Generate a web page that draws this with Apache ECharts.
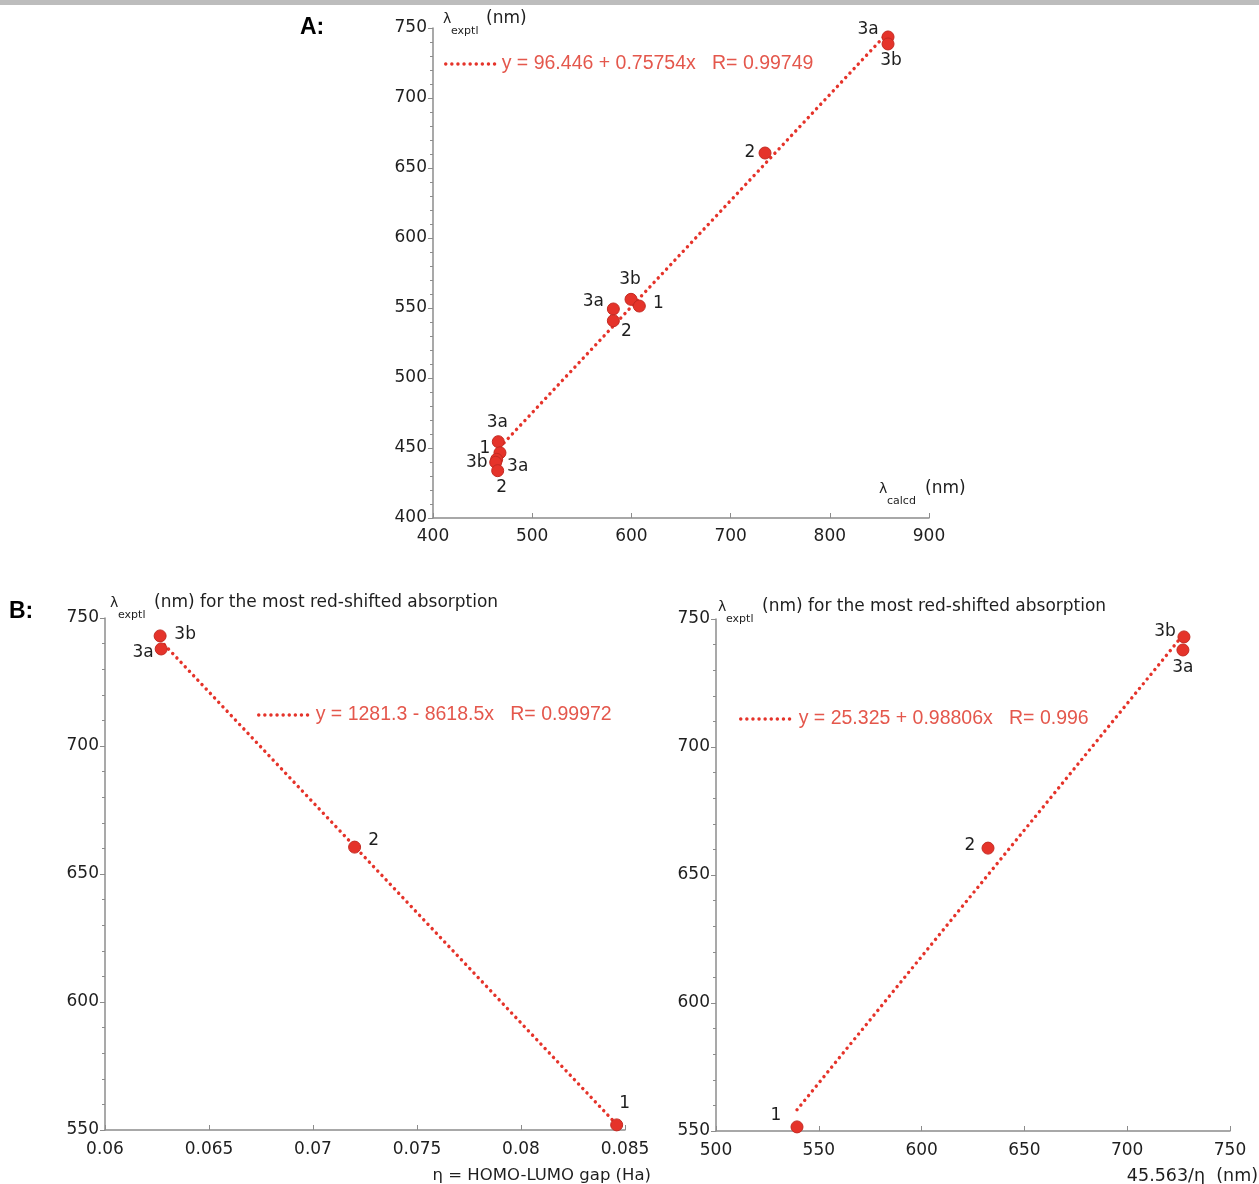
<!DOCTYPE html>
<html><head><meta charset="utf-8">
<script src="https://cdn.jsdelivr.net/npm/echarts@6/dist/echarts.min.js"></script>
<style>html,body{margin:0;padding:0;background:#fff}#c{width:1259px;height:1184px}</style>
</head><body><div id="c"></div>
<script>
// ---- Data ----
// Panel A
const aNames = ['3a','3b','2','3b','1','3a','2','3a','1','3b','3a','2'];
const aCalcd = [858.7, 858.7, 734.7, 599.6, 608.0, 581.8, 581.8, 465.8, 467.5, 464.2, 463.2, 465.2];
const aExptl = [743.6, 738.6, 660.7, 556.2, 551.4, 549.3, 540.9, 454.5, 446.6, 441.9, 439.8, 433.8];
const aFit = {intercept: 96.446, slope: 0.75754, from: 463.2, to: 858.7};
const aFitText = 'y = 96.446 + 0.75754x   R= 0.99749';
const aXTicks = {min: 400, max: 900, step: 100};
const aYTicks = {min: 400, max: 750, step: 50};

// Panel B (left): HOMO-LUMO gap
const blNames = ['3b','3a','2','1'];
const blGap = [0.06265, 0.06270, 0.0720, 0.0846];
const blExptl = [743.0, 737.9, 660.5, 552.0];
const blFit = {intercept: 1281.3, slope: -8618.5, from: 0.06265, to: 0.0846};
const blFitText = 'y = 1281.3 - 8618.5x   R= 0.99972';
const blXTicks = {min: 0.06, max: 0.085, step: 0.005};
const bYTicks = {min: 550, max: 750, step: 50};

// Panel B (right): 45.563/eta
const brNames = ['3b','3a','2','1'];
const brCalc = [727.6, 727.1, 632.3, 539.4];
const brExptl = [743.0, 737.9, 660.5, 551.6];
const brFit = {intercept: 25.325, slope: 0.98806, from: 539.4, to: 727.6};
const brFitText = 'y = 25.325 + 0.98806x   R= 0.996';
const brXTicks = {min: 500, max: 750, step: 50};

// label placement offsets (px) relative to point centre
const aLabelOffsets = [[-20,-7],[3,17],[-15,0],[-1,-20],[19,-2],[-20,-7],[13,11],[-1,-19],[-15,-4],[-20,3],[22,4],[4,17]];
const blLabelOffsets = [[25,-1],[-18,4],[19,-7],[8,-21]];
const brLabelOffsets = [[-19,-5],[0,18],[-18,-3],[-21,-11]];

// ---- Styles ----
const RED = '#e5332a';
const AXIS = '#8c8c8c';
const TXT = '#1e1e1e';
const FONT = 'DejaVu Sans';
const DOTS = {color:RED, width:3.4, type:[0.1, 6], cap:'round'};

function pts(names, xs, ys, offs){
  return names.map((n,i)=>({name:n, value:[xs[i], ys[i]], label:{offset:offs[i]}}));
}
function fitLine(f){
  return [[f.from, f.intercept + f.slope*f.from],[f.to, f.intercept + f.slope*f.to]];
}
function xAxis(gi, t, margin){
  return {type:'value', gridIndex:gi, min:t.min, max:t.max, interval:t.step,
    axisLine:{show:true, onZero:false, lineStyle:{color:AXIS, width:1.5}},
    axisTick:{show:true, inside:true, length:5, lineStyle:{color:AXIS}},
    axisLabel:{color:TXT, fontFamily:FONT, fontSize:17, margin:margin},
    splitLine:{show:false}};
}
function yAxis(gi, t){
  return {type:'value', gridIndex:gi, min:t.min, max:t.max, interval:t.step,
    axisLine:{show:true, onZero:false, lineStyle:{color:AXIS, width:1.5}},
    axisTick:{show:true, inside:false, length:5, lineStyle:{color:AXIS}},
    minorTick:{show:true, splitNumber:5, length:3, lineStyle:{color:AXIS}},
    axisLabel:{color:TXT, fontFamily:FONT, fontSize:17, margin:6},
    splitLine:{show:false}, minorSplitLine:{show:false}};
}
function scatter(gi, data){
  return {type:'scatter', xAxisIndex:gi, yAxisIndex:gi, data:data, symbolSize:12, z:3,
    itemStyle:{color:RED, borderColor:'#c42a22', borderWidth:1, opacity:1},
    label:{show:true, position:'inside', formatter:'{b}', color:TXT, fontFamily:FONT, fontSize:17},
    emphasis:{disabled:true}};
}
function line(gi, name, data){
  return {type:'line', name:name, xAxisIndex:gi, yAxisIndex:gi, data:data, symbol:'none', z:2, silent:true,
    lineStyle:DOTS, itemStyle:{color:RED}};
}
function legend(name, left, midY, w){
  return {data:[name], left:left, top:midY-7, padding:0, itemWidth:w, itemHeight:14, itemGap:0,
    selectedMode:false,
    itemStyle:{color:'rgba(0,0,0,0)', borderWidth:0, opacity:0},
    lineStyle:DOTS,
    textStyle:{color:'#e4574c', fontFamily:'Liberation Sans', fontSize:19.5, padding:[0,0,2,2]}};
}
function sub(x, y, main, subTxt, rest, restX){
  return [
    {type:'text', left:x, top:y-8, style:{text:main, font:'14px "DejaVu Sans"', fill:TXT}},
    {type:'text', left:x+8, top:y+6, style:{text:subTxt, font:'11px "DejaVu Sans"', fill:TXT}},
    {type:'text', left:restX, top:y-10, style:{text:rest, font:'17px "DejaVu Sans"', fill:TXT}}
  ];
}

const chart = echarts.init(document.getElementById('c'), null, {renderer:'canvas'});
chart.setOption({
  backgroundColor:'#fff',
  animation:false,
  grid:[
    {left:433, top:28, width:496, height:490},
    {left:105, top:618, width:520, height:512},
    {left:716, top:619, width:514, height:512}
  ],
  xAxis:[xAxis(0,aXTicks,10), xAxis(1,blXTicks,11), xAxis(2,brXTicks,11)],
  yAxis:[yAxis(0,aYTicks), yAxis(1,bYTicks), yAxis(2,bYTicks)],
  legend:[legend(aFitText, 444, 61, 49), legend(blFitText, 257, 712, 50), legend(brFitText, 739, 716, 51)],
  series:[
    line(0, aFitText, fitLine(aFit)),
    scatter(0, pts(aNames, aCalcd, aExptl, aLabelOffsets)),
    line(1, blFitText, fitLine(blFit)),
    scatter(1, pts(blNames, blGap, blExptl, blLabelOffsets)),
    line(2, brFitText, fitLine(brFit)),
    scatter(2, pts(brNames, brCalc, brExptl, brLabelOffsets))
  ],
  graphic:[
    {type:'rect', left:0, top:0, shape:{width:1259, height:5}, style:{fill:'#bdbdbd'}},
    {type:'text', left:300, top:16, style:{text:'A:', font:'bold 23px "Liberation Sans"', fill:'#000'}},
    {type:'text', left:9, top:600, style:{text:'B:', font:'bold 23px "Liberation Sans"', fill:'#000'}},
    ...sub(443, 20, 'λ', 'exptl', '(nm)', 486),
    ...sub(879, 490, 'λ', 'calcd', '(nm)', 925),
    ...sub(110, 604, 'λ', 'exptl', '(nm) for the most red-shifted absorption', 154),
    ...sub(718, 608, 'λ', 'exptl', '(nm) for the most red-shifted absorption', 762),
    {type:'text', right:1259-651, top:1167, style:{text:'η = HOMO-LUMO gap (Ha)', font:'16.5px "DejaVu Sans"', fill:TXT}},
    {type:'text', right:1, top:1167, style:{text:'45.563/η  (nm)', font:'17.5px "DejaVu Sans"', fill:TXT}}
  ]
});
</script></body></html>
